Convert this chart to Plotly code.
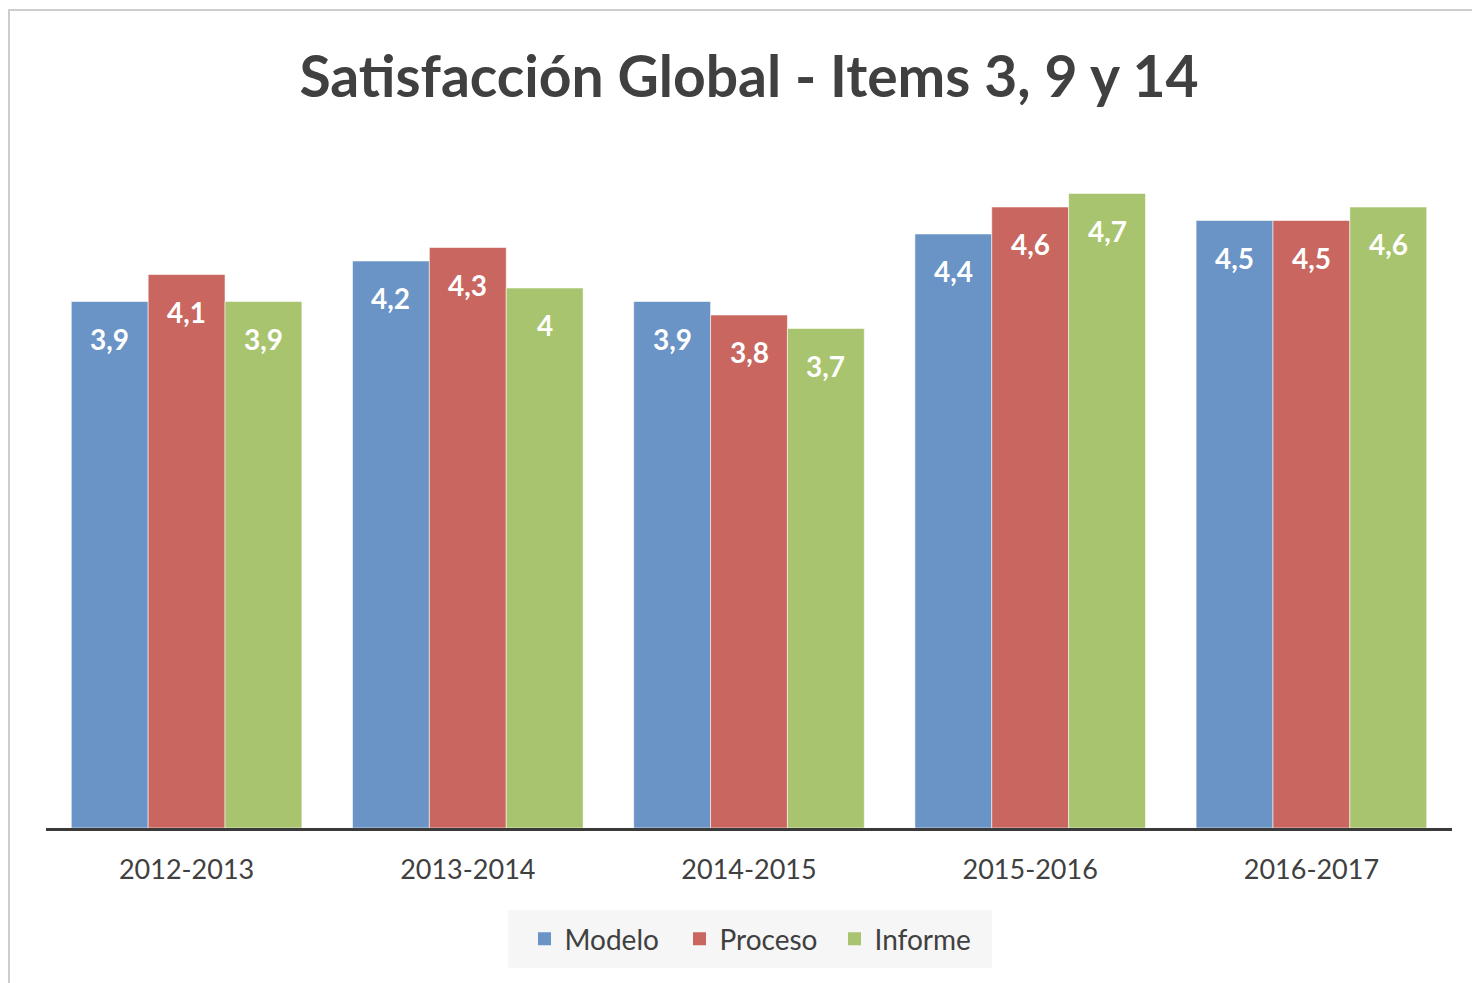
import plotly.graph_objects as go

categories = ["2012-2013", "2013-2014", "2014-2015", "2015-2016", "2016-2017"]
modelo = [3.9, 4.2, 3.9, 4.4, 4.5]
proceso = [4.1, 4.3, 3.8, 4.6, 4.5]
informe = [3.9, 4.0, 3.7, 4.7, 4.6]
series_names = ["Modelo", "Proceso", "Informe"]
series_values = [modelo, proceso, informe]
colors = ["#6A93C6", "#C9665F", "#A9C46E"]

# page has an 8px body margin: figure coordinates = page coordinates - 8
OFF = 8
W, H = 1472, 975
ML, MT = 38, 145
plot_w = 1406
plot_h = 675
MR = W - ML - plot_w
MB = H - MT - plot_h
bargap = 0.18
ymax = 5


def fmt(v):
    return ("%g" % v).replace(".", ",")


fig = go.Figure()
for name, vals, col in zip(series_names, series_values, colors):
    fig.add_trace(go.Bar(
        x=categories, y=vals, name=name, showlegend=False, legendgroup=name,
        marker=dict(color=col, line=dict(color="rgba(255,255,255,0.55)", width=1)),
    ))
# legend entries with slightly larger square swatches
for name, col in zip(series_names, colors):
    fig.add_trace(go.Scatter(
        x=[None], y=[None], mode="markers", name=name, legendgroup=name,
        marker=dict(symbol="square", size=13, color=col),
    ))

cat_w = plot_w / len(categories)
bar_w = cat_w * (1 - bargap) / len(series_names)
annotations = []
for i, vals in enumerate(series_values):
    for c, v in zip(categories, vals):
        annotations.append(dict(
            x=c, y=v, xref="x", yref="y", text="<b>" + fmt(v) + "</b>",
            showarrow=False, xshift=(i - 1) * bar_w, yshift=-37,
            yanchor="middle", xanchor="center",
            font=dict(family="Lato", size=28, color="white"),
        ))


def px_to_paper_x(px):
    return (px - OFF - ML) / plot_w


def px_to_paper_y(py):
    return (MT + plot_h - (py - OFF)) / plot_h


shapes = [
    dict(type="line", xref="paper", yref="paper",
         x0=px_to_paper_x(9), x1=px_to_paper_x(9),
         y0=px_to_paper_y(9), y1=px_to_paper_y(990),
         line=dict(color="#CDCDCD", width=2)),
    dict(type="line", xref="paper", yref="paper",
         x0=px_to_paper_x(9), x1=px_to_paper_x(1490),
         y0=px_to_paper_y(10), y1=px_to_paper_y(10),
         line=dict(color="#CDCDCD", width=2)),
    dict(type="rect", xref="paper", yref="paper",
         x0=px_to_paper_x(508), x1=px_to_paper_x(992),
         y0=px_to_paper_y(910), y1=px_to_paper_y(968),
         fillcolor="#F6F6F6", line=dict(width=0), layer="below"),
]

fig.update_layout(
    width=W, height=H,
    margin=dict(l=ML, r=MR, t=MT, b=MB),
    paper_bgcolor="white", plot_bgcolor="white",
    barmode="group", bargap=bargap, bargroupgap=0,
    title=dict(text="<b>Satisfacción Global - Items 3, 9 y 14</b>",
               x=0.5, xref="paper", xanchor="center",
               y=1 - (77 - OFF) / H, yanchor="middle",
               font=dict(family="Lato", size=57, color="#404040")),
    font=dict(family="Lato", color="#404040"),
    xaxis=dict(showline=True, linecolor="#3A3A3A", linewidth=3,
               showgrid=False, ticks="", ticklabelstandoff=16,
               tickfont=dict(family="Lato", size=27, color="#404040")),
    yaxis=dict(range=[0, ymax], visible=False, showgrid=False, zeroline=False),
    legend=dict(orientation="h", x=px_to_paper_x(757), xanchor="center",
                y=px_to_paper_y(939), yanchor="middle",
                bgcolor="rgba(0,0,0,0)", entrywidth=110,
                font=dict(family="Lato", size=28, color="#404040")),
    annotations=annotations,
    shapes=shapes,
)

fig.write_html("out.html")
